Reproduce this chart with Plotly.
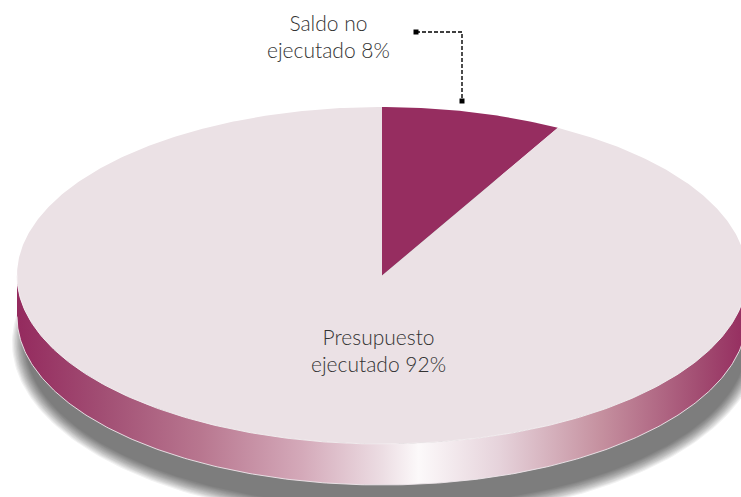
import numpy as np
import plotly.graph_objects as go

# ---- data ----
labels = ["Saldo no<br>ejecutado", "Presupuesto<br>ejecutado"]
values = [8, 92]
slice_colors = ["#962d60", "#ebe1e5"]

# ---- geometry (pixel space) ----
W, H = 741, 497
cx, cy = 382, 275.5
a, b = 365, 168.5
depth = 41

fig = go.Figure()

def ell(t, dx=0, dy=0, ea=0, eb=0):
    # t: angle clockwise from top
    return cx + dx + (a + ea) * np.sin(t), cy + dy - (b + eb) * np.cos(t)

# shadow: stacked translucent ellipses (soft edge, solid core)
N = 12
for k in range(N):
    s = 9 - 13 * k / (N - 1)
    t = np.linspace(0, 2 * np.pi, 300)
    x, y = ell(t, dx=4, dy=depth + 26, ea=s, eb=s)
    fig.add_trace(go.Scatter(x=x, y=y, mode="lines", fill="toself",
                             fillcolor="rgba(0,0,0,0.055)", line=dict(width=0),
                             hoverinfo="skip", showlegend=False))

# side band (visible lower half)
t = np.linspace(np.pi / 2, 3 * np.pi / 2, 300)
xt, yt = ell(t)
xb, yb = ell(t[::-1], dy=depth)
fig.add_trace(go.Scatter(
    x=np.concatenate([xt, xb]), y=np.concatenate([yt, yb]),
    mode="lines", fill="toself", line=dict(width=0),
    fillgradient=dict(type="horizontal", colorscale=[
        [0.0, "#942a5e"], [0.12, "#a24f74"], [0.25, "#b8768f"],
        [0.39, "#d4a9b9"], [0.50, "#ecdde3"], [0.55, "#fcf9fa"],
        [0.66, "#e6d3db"], [0.80, "#c5909f"], [0.94, "#a14a70"],
        [1.0, "#952c5f"]]),
    hoverinfo="skip", showlegend=False))
# light rim along side bottom
fig.add_trace(go.Scatter(x=xb, y=yb, mode="lines",
                         line=dict(color="rgba(240,232,236,0.9)", width=1),
                         hoverinfo="skip", showlegend=False))

# top face slices
total = sum(values)
start = 0.0
for lab, v, c in zip(labels, values, slice_colors):
    end = start + v / total * 2 * np.pi
    tt = np.linspace(start, end, max(int(v * 6), 20))
    x, y = ell(tt)
    fig.add_trace(go.Scatter(x=np.concatenate([[cx], x, [cx]]),
                             y=np.concatenate([[cy], y, [cy]]),
                             mode="lines", fill="toself", fillcolor=c,
                             line=dict(width=0), hoverinfo="skip",
                             showlegend=False, name=lab.replace("<br>", " ")))
    start = end

# rim between top face and side
fig.add_trace(go.Scatter(x=xt, y=yt, mode="lines",
                         line=dict(color="rgba(245,240,242,0.9)", width=1),
                         hoverinfo="skip", showlegend=False))

# leader line for small slice
fig.add_trace(go.Scatter(x=[416, 462, 462], y=[32, 32, 101], mode="lines",
                         line=dict(color="black", width=1.4, dash="4px,2px"),
                         hoverinfo="skip", showlegend=False))
fig.add_trace(go.Scatter(x=[416, 462], y=[32, 101], mode="markers",
                         marker=dict(symbol="square", size=5, color="black"),
                         hoverinfo="skip", showlegend=False))

font = dict(family="Lato, 'Open Sans', sans-serif", size=21, color="#333333",
            weight=300)
fig.add_annotation(x=328, y=36, text=f"{labels[0]} {values[0]}%",
                   showarrow=False, font=font, align="center")
fig.add_annotation(x=378, y=350, text=f"{labels[1]} {values[1]}%",
                   showarrow=False, font=font, align="center")

fig.update_layout(
    width=W, height=H, margin=dict(l=0, r=0, t=0, b=0),
    paper_bgcolor="white", plot_bgcolor="white",
    xaxis=dict(range=[0, W], visible=False, fixedrange=True),
    yaxis=dict(range=[H, 0], visible=False, fixedrange=True),
    showlegend=False,
)
fig.write_html("out.html", config={"displayModeBar": False},
               post_script="document.body.style.margin='0';document.body.style.overflow='hidden';")
